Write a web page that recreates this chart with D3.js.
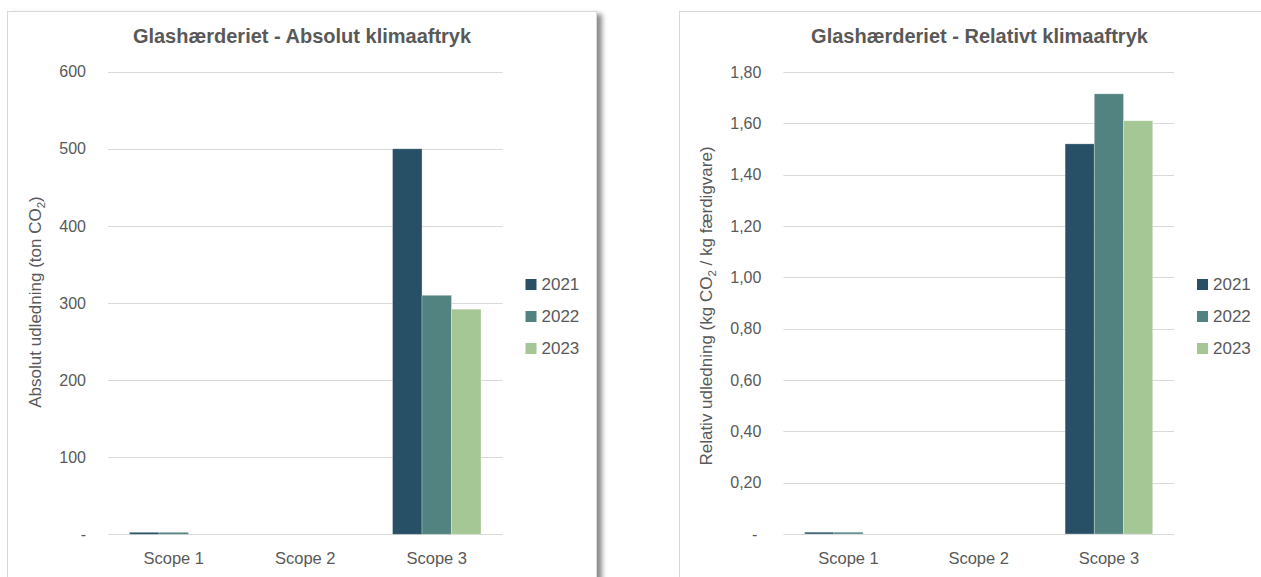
<!DOCTYPE html>
<html>
<head>
<meta charset="utf-8">
<script src="https://cdn.jsdelivr.net/npm/d3@7"></script>
<style>
    body { margin: 0; background: #ffffff; }
    svg text { font-family: "Liberation Sans", Arial, sans-serif; fill: #595959; }
</style>
</head>
<body>
<div id="chart"></div>
<script>
// Data
const categories = ["Scope 1", "Scope 2", "Scope 3"];
const years = ["2021", "2022", "2023"];

// Absolut udledning (ton CO2), one array per year, ordered as categories
const absolute2021 = [2.6, 0, 500];
const absolute2022 = [2.6, 0, 310];
const absolute2023 = [0, 0, 292];
const absoluteTicks = [0, 100, 200, 300, 400, 500, 600];

// Relativ udledning (kg CO2 / kg færdigvare)
const relative2021 = [0.007, 0, 1.52];
const relative2022 = [0.007, 0, 1.715];
const relative2023 = [0, 0, 1.61];
const relativeTicks = [0, 0.2, 0.4, 0.6, 0.8, 1.0, 1.2, 1.4, 1.6, 1.8];

const YEAR_COLORS = ["#275066", "#528380", "#a5c695"];
const GRID_COLOR = "#d9d9d9";

const WIDTH = 1261;
const HEIGHT = 577;

const svg = d3.select("#chart")
    .append("svg")
    .attr("width", WIDTH)
    .attr("height", HEIGHT);

// Drop shadow for the left card
const defs = svg.append("defs");
defs.append("filter")
    .attr("id", "cardShadow")
    .attr("x", "-5%").attr("y", "-5%")
    .attr("width", "115%").attr("height", "115%")
    .append("feDropShadow")
    .attr("dx", 5)
    .attr("dy", 3)
    .attr("stdDeviation", 2.5)
    .attr("flood-color", "#000")
    .attr("flood-opacity", 0.45);

function toSeries(a, b, c) {
    const rows = [a, b, c];
    return categories.map((cat, i) => ({
        category: cat,
        values: years.map((y, j) => ({ year: y, value: rows[j][i] }))
    }));
}

function drawPanel(opts) {
    const card = opts.card;

    svg.append("rect")
        .attr("x", card.x)
        .attr("y", card.y)
        .attr("width", card.w)
        .attr("height", card.h)
        .attr("fill", "#fff")
        .attr("stroke", GRID_COLOR)
        .attr("stroke-width", 1)
        .attr("filter", card.shadow ? "url(#cardShadow)" : null);

    const g = svg.append("g");

    // Title
    g.append("text")
        .attr("x", card.x + card.w / 2)
        .attr("y", 43)
        .attr("text-anchor", "middle")
        .style("font-size", "20px")
        .style("font-weight", "bold")
        .text(opts.title);

    const x0 = d3.scaleBand()
        .domain(categories)
        .range([opts.left, opts.right])
        .padding(0);

    const x1 = d3.scaleBand()
        .domain(years)
        .range([0, x0.bandwidth()])
        .paddingInner(0)
        .paddingOuter(0.73);

    const y = d3.scaleLinear()
        .domain([0, opts.ticks[opts.ticks.length - 1]])
        .range([opts.bottom, opts.top]);

    const color = d3.scaleOrdinal().domain(years).range(YEAR_COLORS);

    // Gridlines
    g.append("g")
        .selectAll("line")
        .data(opts.ticks)
        .join("line")
        .attr("x1", opts.left)
        .attr("x2", opts.right)
        .attr("y1", d => Math.round(y(d)) + 0.5)
        .attr("y2", d => Math.round(y(d)) + 0.5)
        .attr("stroke", GRID_COLOR)
        .attr("stroke-width", 1);

    // Y axis labels
    const yAxis = g.append("g")
        .attr("transform", `translate(${opts.left},0)`)
        .call(d3.axisLeft(y)
            .tickValues(opts.ticks)
            .tickSize(0)
            .tickPadding(22)
            .tickFormat(opts.format));
    yAxis.select(".domain").remove();
    yAxis.selectAll("text")
        .style("font-size", "16px")
        .attr("fill", "#595959")
        .attr("dx", d => d === 0 ? opts.zeroShift : 0);

    // Bars
    const groups = g.append("g")
        .selectAll("g")
        .data(opts.data)
        .join("g")
        .attr("transform", d => `translate(${x0(d.category)},0)`);

    groups.selectAll("rect")
        .data(d => d.values.filter(v => v.value > 0))
        .join("rect")
        .attr("x", d => x1(d.year))
        .attr("width", x1.bandwidth())
        .attr("y", d => y(d.value))
        .attr("height", d => y(0) - y(d.value))
        .attr("fill", d => color(d.year))
        .attr("stroke", "#ffffff")
        .attr("stroke-opacity", 0.35)
        .attr("stroke-width", 0.8);

    // X axis labels
    g.append("g")
        .selectAll("text")
        .data(categories)
        .join("text")
        .attr("x", d => x0(d) + x0.bandwidth() / 2)
        .attr("y", 564)
        .attr("text-anchor", "middle")
        .style("font-size", "16.5px")
        .text(d => d);

    // Y axis title (rotated, with subscript 2)
    const title = g.append("text")
        .attr("transform", `translate(${opts.titleX},${opts.titleY}) rotate(-90)`)
        .attr("text-anchor", "middle")
        .style("font-size", "17px");
    title.append("tspan").text(opts.yTitle[0]);
    title.append("tspan").attr("dy", 4).style("font-size", "11.5px").text("2");
    title.append("tspan").attr("dy", -4).text(opts.yTitle[1]);

    // Legend
    const legend = g.append("g")
        .selectAll("g")
        .data(years)
        .join("g")
        .attr("transform", (d, i) => `translate(${opts.right + 23},${279 + i * 32})`);

    legend.append("rect")
        .attr("width", 11)
        .attr("height", 11)
        .attr("fill", d => color(d));

    legend.append("text")
        .attr("x", 16)
        .attr("y", 11)
        .style("font-size", "17px")
        .text(d => d);
}

const comma = d3.formatLocale({ decimal: ",", thousands: ".", grouping: [3], currency: ["", " kr."] });

drawPanel({
    card: { x: 7.5, y: 11.5, w: 589, h: 600, shadow: true },
    title: "Glashærderiet - Absolut klimaaftryk",
    data: toSeries(absolute2021, absolute2022, absolute2023),
    ticks: absoluteTicks,
    format: d => d === 0 ? "-" : d3.format("d")(d),
    zeroShift: 0,
    left: 108, right: 502.5, top: 71.7, bottom: 534.3,
    titleX: 41, titleY: 302,
    yTitle: ["Absolut udledning (ton CO", ")"]
});

drawPanel({
    card: { x: 679.5, y: 11.5, w: 600, h: 600, shadow: false },
    title: "Glashærderiet - Relativt klimaaftryk",
    data: toSeries(relative2021, relative2022, relative2023),
    ticks: relativeTicks,
    format: d => d === 0 ? "-" : comma.format(".2f")(d),
    zeroShift: -4,
    left: 783.4, right: 1174, top: 72, bottom: 534,
    titleX: 712, titleY: 306,
    yTitle: ["Relativ udledning (kg CO", " / kg færdigvare)"]
});
</script>
</body>
</html>
